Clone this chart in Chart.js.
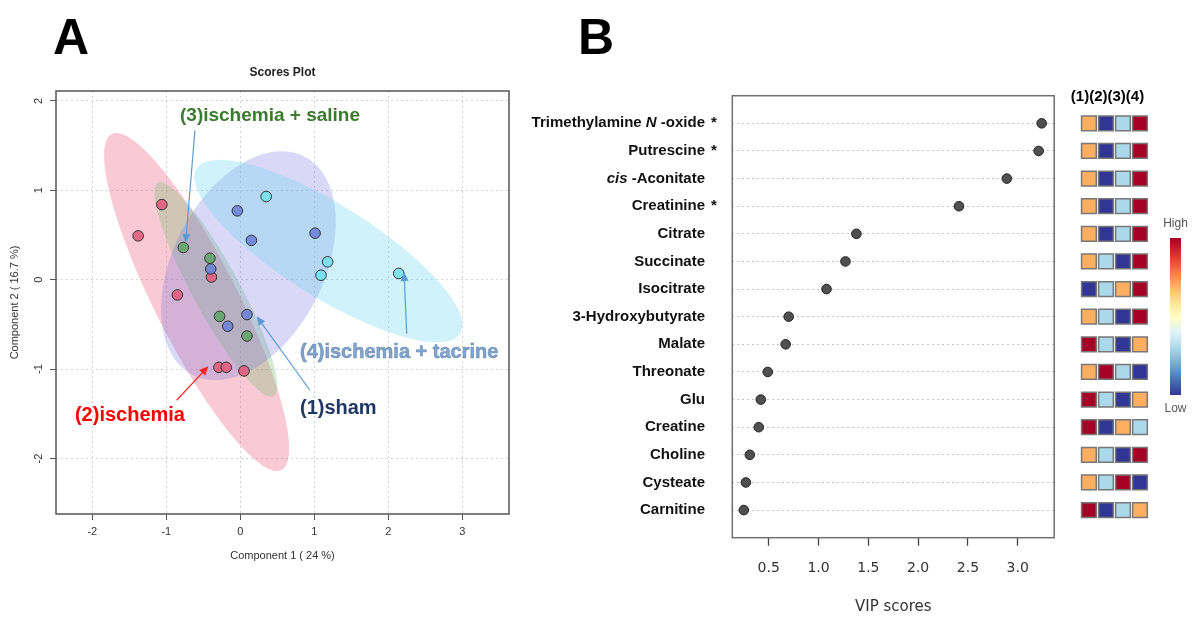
<!DOCTYPE html>
<html>
<head>
<meta charset="utf-8">
<script src="https://cdn.jsdelivr.net/npm/chart.js@4.4.0/dist/chart.umd.min.js"></script>
<style>
  body { margin: 0; background: #fff; }
  #wrap { position: relative; width: 1194px; height: 617px; overflow: hidden; background: #fff; }
  canvas { position: absolute; top: 0; }
</style>
</head>
<body>
<div id="wrap">
  <canvas id="scoresChart" width="520" height="617" style="left:0"></canvas>
  <canvas id="vipChart" width="540" height="617" style="left:520px"></canvas>
  <canvas id="heatChart" width="134" height="617" style="left:1060px"></canvas>
</div>
<script>
// ---- Panel A: PLS-DA scores ----
const groupNames = ['(1)sham', '(2)ischemia', '(3)ischemia + saline', '(4)ischemia + tacrine'];
const shamX = [-0.04, 0.15, 1.01, -0.40, 0.09, -0.17];
const shamY = [0.77, 0.44, 0.52, 0.12, -0.39, -0.52];
const ischemiaX = [-1.38, -1.06, -0.85, -0.39, -0.29, -0.19, 0.05];
const ischemiaY = [0.49, 0.84, -0.17, 0.03, -0.98, -0.98, -1.02];
const salineX = [-0.77, -0.41, -0.28, 0.09];
const salineY = [0.36, 0.24, -0.41, -0.63];
const tacrineX = [0.35, 1.18, 1.09, 2.14];
const tacrineY = [0.93, 0.20, 0.05, 0.07];

// confidence ellipses: center, half extents, correlation (order: sham, ischemia, saline, tacrine)
const ellipseCx = [0.11, -0.59, -0.33, 1.19];
const ellipseCy = [0.156, -0.25, -0.11, 0.32];
const ellipseSx = [1.18, 1.25, 0.83, 1.81];
const ellipseSy = [1.28, 1.89, 1.20, 1.02];
const ellipseR = [0.38, -0.867, -0.90, -0.81];

const xTicksA = [-2, -1, 0, 1, 2, 3];
const yTicksA = [-2, -1, 0, 1, 2];

// annotations (data coords)
const noteX = [0.806, -2.234, -0.815, 0.806];
const noteY = [-1.441, -1.516, 1.836, -0.819];
const arrowFromX = [0.941, -0.86, -0.613, 2.248];
const arrowFromY = [-1.236, -1.348, 1.669, -0.603];
const arrowToX = [0.221, -0.432, -0.739, 2.212];
const arrowToY = [-0.41, -0.968, 0.41, 0.086];

// ---- Panel B: VIP scores ----
const metabolites = ['Trimethylamine N-oxide', 'Putrescine', 'cis-Aconitate', 'Creatinine', 'Citrate',
  'Succinate', 'Isocitrate', '3-Hydroxybutyrate', 'Malate', 'Threonate', 'Glu', 'Creatine',
  'Choline', 'Cysteate', 'Carnitine'];
const significant = [true, true, false, true, false, false, false, false, false, false, false, false, false, false, false];
const vipScores = [3.24, 3.21, 2.89, 2.41, 1.38, 1.27, 1.08, 0.70, 0.67, 0.49, 0.42, 0.40, 0.31, 0.27, 0.25];
const vipTicks = [0.5, 1.0, 1.5, 2.0, 2.5, 3.0];

// relative level per group (1 = low ... 4 = high)
const shamLevel     = [3, 3, 3, 3, 3, 3, 1, 3, 4, 3, 4, 4, 3, 3, 4];
const ischemiaLevel = [1, 1, 1, 1, 1, 2, 2, 2, 2, 4, 2, 1, 2, 2, 1];
const salineLevel   = [2, 2, 2, 2, 2, 1, 3, 1, 1, 2, 1, 3, 1, 4, 2];
const tacrineLevel  = [4, 4, 4, 4, 4, 4, 4, 4, 3, 1, 3, 2, 4, 1, 3];

const levelColors = ['#313695', '#abd9e9', '#fdae61', '#a50026'];
const SANS = '"Liberation Sans", Arial, sans-serif';

function toPoints(xs, ys) {
  return xs.map((v, i) => ({ x: v, y: ys[i] }));
}

function ellipsePath(ctx, xs, ys, g) {
  const n = 160;
  const k = Math.sqrt(1 - ellipseR[g] * ellipseR[g]);
  ctx.beginPath();
  for (let i = 0; i <= n; i++) {
    const t = i / n * Math.PI * 2;
    const dx = ellipseSx[g] * Math.cos(t);
    const dy = ellipseSy[g] * (ellipseR[g] * Math.cos(t) + k * Math.sin(t));
    const px = xs.getPixelForValue(ellipseCx[g] + dx);
    const py = ys.getPixelForValue(ellipseCy[g] + dy);
    if (i === 0) ctx.moveTo(px, py); else ctx.lineTo(px, py);
  }
  ctx.closePath();
}

function drawArrow(ctx, x1, y1, x2, y2, color) {
  const ang = Math.atan2(y2 - y1, x2 - x1);
  const head = 9, hw = 4;
  const bx = x2 - head * Math.cos(ang), by = y2 - head * Math.sin(ang);
  ctx.strokeStyle = color;
  ctx.fillStyle = color;
  ctx.lineWidth = 1.2;
  ctx.beginPath();
  ctx.moveTo(x1, y1);
  ctx.lineTo(bx, by);
  ctx.stroke();
  ctx.beginPath();
  ctx.moveTo(x2, y2);
  ctx.lineTo(bx + hw * Math.sin(ang), by - hw * Math.cos(ang));
  ctx.lineTo(bx - hw * Math.sin(ang), by + hw * Math.cos(ang));
  ctx.closePath();
  ctx.fill();
}

const ellipseFills = ['rgba(120,120,225,0.28)', 'rgba(235,90,125,0.32)', 'rgba(110,190,110,0.30)', 'rgba(110,215,240,0.32)'];
const noteColors = ['#1f3864', '#ff0000', '#3a7a2c', '#7fa7d2'];
const arrowColors = ['#5b9bd5', '#ff2020', '#5b9bd5', '#5b9bd5'];

const scoresDecor = {
  id: 'scoresDecor',
  beforeDatasetsDraw(chart) {
    const { ctx, chartArea: a, scales: { x, y } } = chart;
    ctx.save();
    ctx.beginPath();
    ctx.rect(a.left, a.top, a.right - a.left, a.bottom - a.top);
    ctx.clip();
    [1, 2, 0, 3].forEach(g => {
      ellipsePath(ctx, x, y, g);
      ctx.fillStyle = ellipseFills[g];
      ctx.fill();
    });
    ctx.restore();
  },
  afterDatasetsDraw(chart) {
    const { ctx, scales: { x, y } } = chart;
    ctx.save();
    for (let i = 0; i < 4; i++) {
      drawArrow(ctx, x.getPixelForValue(arrowFromX[i]), y.getPixelForValue(arrowFromY[i]),
        x.getPixelForValue(arrowToX[i]), y.getPixelForValue(arrowToY[i]), arrowColors[i]);
    }
    ctx.textBaseline = 'middle';
    ctx.textAlign = 'left';
    const sizes = [20, 20, 19, 20];
    for (let i = 0; i < 4; i++) {
      ctx.font = 'bold ' + sizes[i] + 'px ' + SANS;
      const px = x.getPixelForValue(noteX[i]), py = y.getPixelForValue(noteY[i]);
      ctx.fillStyle = noteColors[i];
      ctx.fillText(groupNames[i], px, py);
      if (i === 3) {
        ctx.strokeStyle = 'rgba(70,100,140,0.6)';
        ctx.lineWidth = 0.6;
        ctx.strokeText(groupNames[i], px, py);
      }
    }
    ctx.restore();
  },
  afterDraw(chart) {
    const { ctx, chartArea: a, scales: { x, y } } = chart;
    ctx.save();
    ctx.strokeStyle = '#555';
    ctx.lineWidth = 1.5;
    ctx.strokeRect(a.left, a.top, a.right - a.left, a.bottom - a.top);

    ctx.fillStyle = '#000';
    ctx.font = 'bold 50px ' + SANS;
    ctx.textAlign = 'left';
    ctx.textBaseline = 'alphabetic';
    ctx.fillText('A', 53, 54);

    ctx.fillStyle = '#222';
    ctx.font = 'bold 12px ' + SANS;
    ctx.textAlign = 'center';
    ctx.textBaseline = 'middle';
    ctx.fillText('Scores Plot', (a.left + a.right) / 2, 73);

    ctx.fillStyle = '#333';
    ctx.font = '11px ' + SANS;
    ctx.fillText('Component 1 ( 24 %)', (a.left + a.right) / 2, 556);

    yTicksA.forEach(v => {
      ctx.save();
      ctx.translate(39, y.getPixelForValue(v));
      ctx.rotate(-Math.PI / 2);
      ctx.fillText(String(v), 0, 0);
      ctx.restore();
    });
    ctx.translate(15, (a.top + a.bottom) / 2);
    ctx.rotate(-Math.PI / 2);
    ctx.fillText('Component 2 ( 16.7 %)', 0, 0);
    ctx.restore();
  }
};

new Chart(document.getElementById('scoresChart'), {
  type: 'scatter',
  data: {
    datasets: [
      { label: groupNames[0], data: toPoints(shamX, shamY), backgroundColor: 'rgba(110,130,215,0.9)' },
      { label: groupNames[1], data: toPoints(ischemiaX, ischemiaY), backgroundColor: 'rgba(225,95,125,0.9)' },
      { label: groupNames[2], data: toPoints(salineX, salineY), backgroundColor: 'rgba(100,165,105,0.9)' },
      { label: groupNames[3], data: toPoints(tacrineX, tacrineY), backgroundColor: 'rgba(120,225,240,0.9)' }
    ].map(d => Object.assign(d, { pointRadius: 5.3, borderColor: '#333', borderWidth: 1 }))
  },
  options: {
    responsive: false,
    animation: false,
    events: [],
    layout: { padding: { left: 0, top: 91, right: 11, bottom: 52 } },
    plugins: { legend: { display: false }, tooltip: { enabled: false } },
    scales: {
      x: {
        type: 'linear', min: -2.49, max: 3.63,
        afterBuildTicks: s => { s.ticks = xTicksA.map(v => ({ value: v })); },
        afterFit: s => { s.height = 51; },
        grid: { color: '#d2d2d2', lineWidth: 1, tickLength: 6, tickColor: '#555', tickWidth: 1 },
        border: { display: false, dash: [2, 3] },
        ticks: { font: { family: SANS, size: 11 }, color: '#333', padding: 5, maxRotation: 0 }
      },
      y: {
        type: 'linear', min: -2.62, max: 2.11,
        afterBuildTicks: s => { s.ticks = yTicksA.map(v => ({ value: v })); },
        afterFit: s => { s.width = 56; },
        grid: { color: '#d2d2d2', lineWidth: 1, tickLength: 6, tickColor: '#555', tickWidth: 1 },
        border: { display: false, dash: [2, 3] },
        ticks: { display: false }
      }
    }
  },
  plugins: [scoresDecor]
});

// ---- Panel B ----
function labelParts(name) {
  const m = name.match(/^(.*?)\b(N|cis)-(.*)$/);
  if (!m) return [[name, false]];
  const parts = [];
  if (m[1]) parts.push([m[1], false]);
  parts.push([m[2], true]);
  parts.push([' -' + m[3], false]);
  return parts;
}

const vipDecor = {
  id: 'vipDecor',
  afterDraw(chart) {
    const { ctx, chartArea: a, scales: { y } } = chart;
    ctx.save();
    ctx.strokeStyle = '#707070';
    ctx.lineWidth = 1.5;
    ctx.strokeRect(a.left, a.top, a.right - a.left, a.bottom - a.top);

    ctx.fillStyle = '#000';
    ctx.font = 'bold 50px ' + SANS;
    ctx.textBaseline = 'alphabetic';
    ctx.textAlign = 'left';
    ctx.fillText('B', 58, 54);

    ctx.textBaseline = 'middle';
    const rightX = 185;
    metabolites.forEach((name, i) => {
      const py = y.getPixelForValue(i + 1);
      const parts = labelParts(name);
      let total = 0;
      parts.forEach(p => {
        ctx.font = (p[1] ? 'italic bold ' : 'bold ') + '15px ' + SANS;
        total += ctx.measureText(p[0]).width;
      });
      let px = rightX - total;
      ctx.fillStyle = '#111';
      parts.forEach(p => {
        ctx.font = (p[1] ? 'italic bold ' : 'bold ') + '15px ' + SANS;
        ctx.fillText(p[0], px, py);
        px += ctx.measureText(p[0]).width;
      });
      if (significant[i]) {
        ctx.font = 'bold 15px ' + SANS;
        ctx.fillText('*', 191, py);
      }
    });
    ctx.restore();
  }
};

new Chart(document.getElementById('vipChart'), {
  type: 'scatter',
  data: {
    datasets: [{
      label: 'VIP',
      data: vipScores.map((v, i) => ({ x: v, y: i + 1 })),
      pointRadius: 4.8,
      backgroundColor: '#505050',
      borderColor: '#222',
      borderWidth: 1
    }]
  },
  options: {
    responsive: false,
    animation: false,
    events: [],
    layout: { padding: { left: 0, top: 95.7, right: 1.3, bottom: 0 } },
    plugins: { legend: { display: false }, tooltip: { enabled: false } },
    scales: {
      x: {
        type: 'linear', min: 0.134, max: 3.366,
        afterBuildTicks: s => { s.ticks = vipTicks.map(v => ({ value: v })); },
        afterFit: s => { s.height = 79.3; },
        grid: { drawOnChartArea: false, tickLength: 8, tickColor: '#444', tickWidth: 1.3 },
        border: { display: false },
        ticks: {
          callback: v => Number(v).toFixed(1),
          font: { family: '"DejaVu Sans", sans-serif', size: 14 }, color: '#333', padding: 14, maxRotation: 0
        },
        title: {
          display: true, text: 'VIP scores',
          font: { family: '"DejaVu Sans", sans-serif', size: 15 }, color: '#333',
          padding: { top: 0, bottom: 1 }
        }
      },
      y: {
        type: 'linear', min: 0, max: 16, reverse: true,
        afterBuildTicks: s => { s.ticks = metabolites.map((m, i) => ({ value: i + 1 })); },
        afterFit: s => { s.width = 212.3; },
        grid: { color: '#c4c4c4', lineWidth: 1, drawTicks: false },
        border: { display: false, dash: [2, 3] },
        ticks: { display: false }
      }
    }
  },
  plugins: [vipDecor]
});

// ---- Heatmap next to panel B ----
const levelColumns = [shamLevel, ischemiaLevel, salineLevel, tacrineLevel];
const cells = [];
const cellColors = [];
levelColumns.forEach((col, j) => {
  col.forEach((lv, i) => {
    cells.push({ x: j + 1, y: i + 1 });
    cellColors.push(levelColors[lv - 1]);
  });
});

const heatDecor = {
  id: 'heatDecor',
  afterDraw(chart) {
    const { ctx, scales: { x } } = chart;
    ctx.save();
    ctx.fillStyle = '#000';
    ctx.font = 'bold 15px ' + SANS;
    ctx.textAlign = 'center';
    ctx.textBaseline = 'middle';
    ctx.fillText('(1)(2)(3)(4)', 47.5, 97);

    const gx = 110, gTop = 238, gBot = 395;
    const grad = ctx.createLinearGradient(0, gTop, 0, gBot);
    ['#a50026', '#d73027', '#f46d43', '#fdae61', '#fee090', '#ffffbf', '#e0f3f8', '#abd9e9', '#74add1', '#4575b4', '#313695']
      .forEach((c, i, arr) => grad.addColorStop(i / (arr.length - 1), c));
    ctx.fillStyle = grad;
    ctx.fillRect(gx, gTop, 11, gBot - gTop);

    ctx.fillStyle = '#555';
    ctx.font = '12px ' + SANS;
    ctx.fillText('High', gx + 5.5, 224);
    ctx.fillText('Low', gx + 5.5, 409);
    ctx.restore();
  }
};

new Chart(document.getElementById('heatChart'), {
  type: 'scatter',
  data: {
    datasets: [{
      label: 'levels',
      data: cells,
      pointStyle: 'rect',
      pointRadius: 10.4,
      backgroundColor: cellColors,
      borderColor: '#777',
      borderWidth: 1.5
    }]
  },
  options: {
    responsive: false,
    animation: false,
    events: [],
    layout: { padding: { left: 2, right: 37, top: 95.7, bottom: 79.3 } },
    plugins: { legend: { display: false }, tooltip: { enabled: false } },
    scales: {
      x: { type: 'linear', display: false, min: 0, max: 5 },
      y: { type: 'linear', display: false, min: 0, max: 16, reverse: true }
    }
  },
  plugins: [heatDecor]
});
</script>
</body>
</html>
